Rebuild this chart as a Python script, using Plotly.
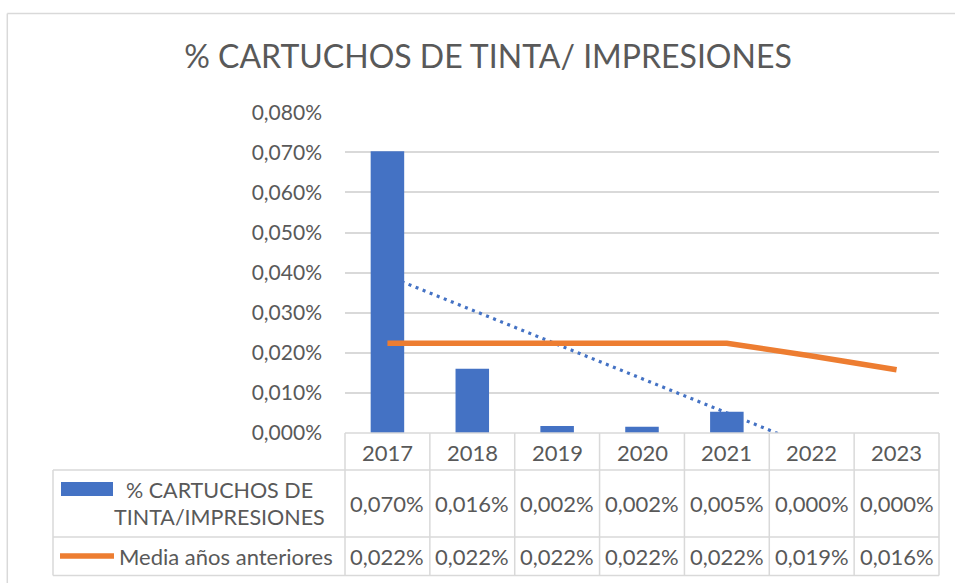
import numpy as np
import plotly.graph_objects as go

# ---------------- data ----------------
years = ["2017", "2018", "2019", "2020", "2021", "2022", "2023"]
cartuchos = [0.000703, 0.000160, 0.0000175, 0.0000155, 0.0000530, 0.0, 0.0]
media = [0.000224, 0.000224, 0.000224, 0.000224, 0.000224, 0.000192, 0.000158]
series_name_lines = ["% CARTUCHOS DE", "TINTA/IMPRESIONES"]
media_name = "Media años anteriores"
title_text = "% CARTUCHOS DE TINTA/ IMPRESIONES"

# ---------------- style ----------------
W, H = 955, 583
BLUE = "#4472C4"
ORANGE = "#ED7D31"
TXT = "#595959"
GRID = "#D9D9D9"
FONT = "Lato"


def px(x):
    return x / W


def py(y):
    return 1 - y / H


X0, X1 = 345, 939
Y_TOP, Y_ZERO = 112.3, 433
ROW1, ROW2, ROW3 = 470, 537, 575.5
LEFT = 53

# linear trend of the bar series (Excel-like linear trendline)
idx = np.arange(len(years))
coef = np.polyfit(idx, cartuchos, 1)
trend = np.polyval(coef, idx)

fig = go.Figure()

# trendline on base axes (drawn under the bars)
fig.add_trace(go.Scatter(
    x=years, y=trend, mode="lines", xaxis="x", yaxis="y",
    line=dict(color=BLUE, width=3.2, dash="3px,4.6px"),
    hoverinfo="skip", showlegend=False,
))

# bars and average line on the overlaying axes
fig.add_trace(go.Bar(
    x=years, y=cartuchos, xaxis="x2", yaxis="y2",
    marker=dict(color=BLUE, line=dict(width=0)),
    showlegend=False,
))
fig.add_trace(go.Scatter(
    x=years, y=media, mode="lines", xaxis="x2", yaxis="y2",
    line=dict(color=ORANGE, width=5.5),
    showlegend=False,
))

axis_common = dict(domain=[px(X0), px(X1)], type="category",
                   range=[-0.5, len(years) - 0.5], automargin=False,
                   showticklabels=False, showgrid=False, zeroline=False,
                   showline=False, ticks="")
ydom = [py(Y_ZERO), py(Y_TOP)]

fig.update_layout(
    template="none",
    width=W, height=H,
    margin=dict(l=0, r=0, t=0, b=0, pad=0, autoexpand=False),
    paper_bgcolor="white", plot_bgcolor="rgba(0,0,0,0)",
    separators=",.",
    bargap=0.605,
    showlegend=False,
    font=dict(family=FONT, color=TXT),
    title=dict(text=title_text, x=px(488), y=py(57), xanchor="center",
               yanchor="middle", xref="paper", yref="paper",
               font=dict(family=FONT, size=32, color=TXT)),
    xaxis=dict(**axis_common),
    xaxis2=dict(**axis_common, overlaying="x", anchor="y2"),
    yaxis=dict(domain=ydom, range=[0, 0.0008], dtick=0.0001,
               tickformat=".3%", showgrid=True, gridcolor=GRID,
               gridwidth=1.5, zeroline=False, showline=False, ticks="",
               ticklabelstandoff=22, automargin=False,
               tickfont=dict(family=FONT, size=21, color=TXT)),
    yaxis2=dict(domain=ydom, range=[0, 0.0008], overlaying="y",
                anchor="x2", showgrid=False, zeroline=False, automargin=False,
                showticklabels=False, showline=False, ticks=""),
)

shapes = []
line_style = dict(color=GRID, width=1.5)
# chart outer border (top and left)
shapes.append(dict(type="line", xref="paper", yref="paper",
                   x0=px(7.3), x1=1.01, y0=py(13.5), y1=py(13.5), line=line_style))
shapes.append(dict(type="line", xref="paper", yref="paper",
                   x0=px(7.3), x1=px(7.3), y0=py(13.5), y1=-0.01, line=line_style))
# table horizontal lines
shapes.append(dict(type="line", xref="paper", yref="paper",
                   x0=px(X0), x1=px(X1), y0=py(Y_ZERO), y1=py(Y_ZERO), line=line_style))
for yy in (ROW1, ROW2, ROW3):
    shapes.append(dict(type="line", xref="paper", yref="paper",
                       x0=px(LEFT), x1=px(X1), y0=py(yy), y1=py(yy), line=line_style))
# table vertical lines
ncat = len(years)
for i in range(ncat + 1):
    xx = X0 + (X1 - X0) * i / ncat
    shapes.append(dict(type="line", xref="paper", yref="paper",
                       x0=px(xx), x1=px(xx), y0=py(Y_ZERO), y1=py(ROW3), line=line_style))
shapes.append(dict(type="line", xref="paper", yref="paper",
                   x0=px(LEFT), x1=px(LEFT), y0=py(ROW1), y1=py(ROW3), line=line_style))
# legend keys
shapes.append(dict(type="rect", xref="paper", yref="paper",
                   x0=px(61), x1=px(113), y0=py(496), y1=py(482),
                   fillcolor=BLUE, line=dict(width=0)))
shapes.append(dict(type="line", xref="paper", yref="paper",
                   x0=px(60), x1=px(114), y0=py(556), y1=py(556),
                   line=dict(color=ORANGE, width=5.5)))
fig.update_layout(shapes=shapes)


def fmt(v):
    return f"{v * 100:.3f}%".replace(".", ",")


ann = []
tf = dict(family=FONT, size=22, color=TXT)
for i, yr in enumerate(years):
    ann.append(dict(x=i, xref="x", y=py(452), yref="paper", text=yr,
                    showarrow=False, font=tf, xanchor="center", yanchor="middle"))
    ann.append(dict(x=i, xref="x", y=py(503.5), yref="paper", text=fmt(cartuchos[i]),
                    showarrow=False, font=tf, xanchor="center", yanchor="middle"))
    ann.append(dict(x=i, xref="x", y=py(556.5), yref="paper", text=fmt(media[i]),
                    showarrow=False, font=tf, xanchor="center", yanchor="middle"))
ann.append(dict(x=px(219.5), xref="paper", y=py(490), yref="paper",
                text=series_name_lines[0], showarrow=False,
                font=dict(family=FONT, size=21.5, color=TXT),
                xanchor="center", yanchor="middle"))
ann.append(dict(x=px(219.5), xref="paper", y=py(517), yref="paper",
                text=series_name_lines[1], showarrow=False,
                font=dict(family=FONT, size=21.5, color=TXT),
                xanchor="center", yanchor="middle"))
ann.append(dict(x=px(117), xref="paper", y=py(556.5), yref="paper",
                text=media_name, showarrow=False, font=tf,
                xanchor="left", yanchor="middle"))
fig.update_layout(annotations=ann)

fig.write_html("out.html", config={"displayModeBar": False},
               post_script="document.body.style.margin='0px';")
